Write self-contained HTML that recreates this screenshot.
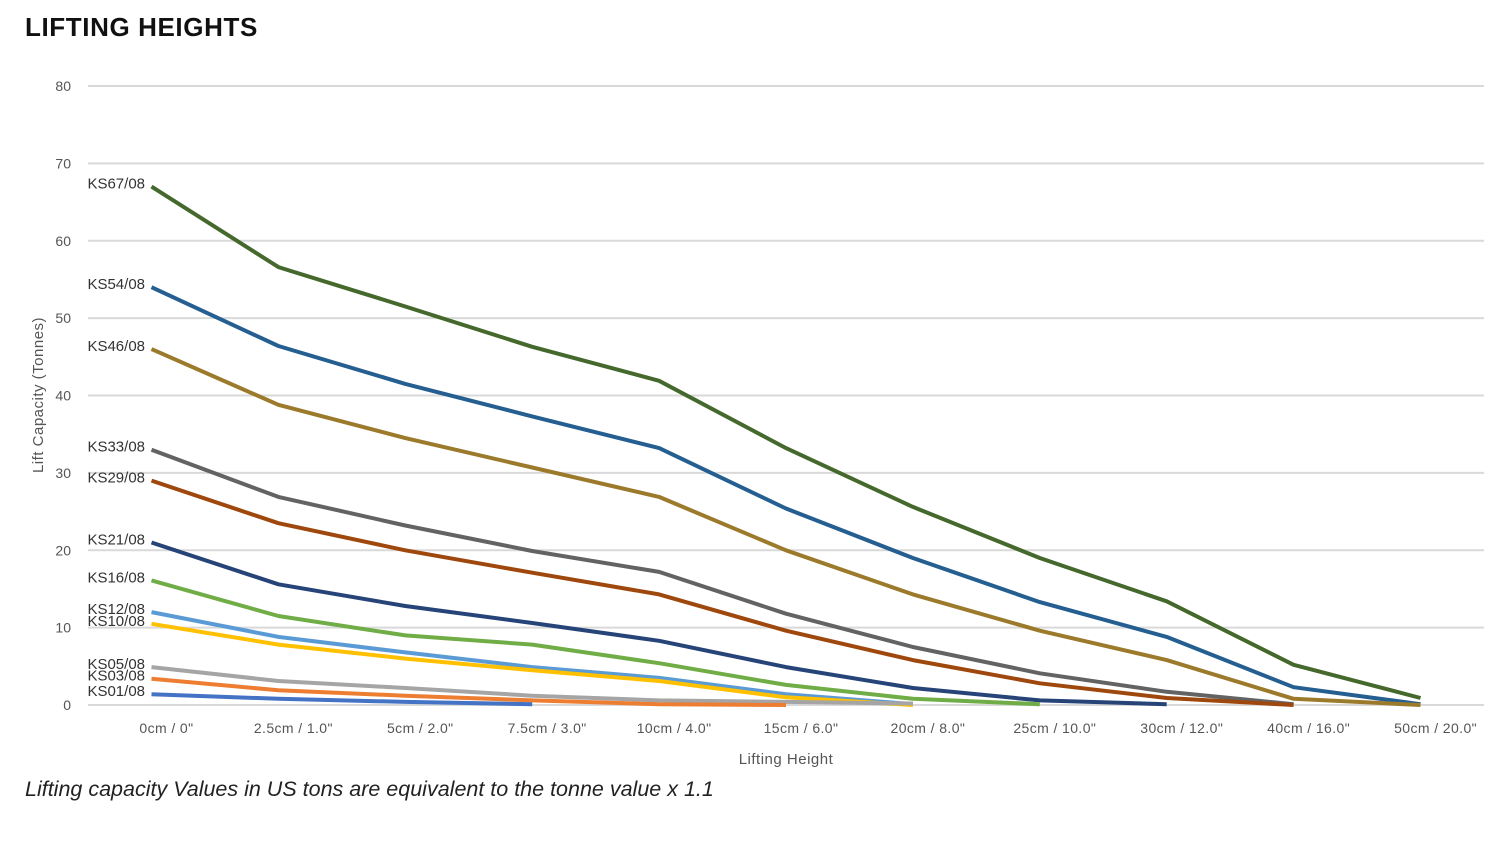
<!DOCTYPE html>
<html><head><meta charset="utf-8"><style>
body{margin:0;background:#fff;width:1510px;height:855px;overflow:hidden;font-family:"Liberation Sans",sans-serif}
</style></head><body>
<svg width="1510" height="855">
<text x="25" y="36" font-size="26" font-weight="bold" letter-spacing="0.6" fill="#111">LIFTING HEIGHTS</text>
<g id="grid"></g><g id="lines"></g><g id="labels"></g>
<text x="786" y="764" font-size="15" letter-spacing="0.5" fill="#555" text-anchor="middle">Lifting Height</text>
<text transform="translate(43,395) rotate(-90)" font-size="15" letter-spacing="0.5" fill="#555" text-anchor="middle">Lift Capacity (Tonnes)</text>
<text x="25" y="796" font-size="21.5" font-style="italic" fill="#222">Lifting capacity Values in US tons are equivalent to the tonne value x 1.1</text>
</svg>
<script>
const categories=['0cm / 0"','2.5cm / 1.0"','5cm / 2.0"','7.5cm / 3.0"','10cm / 4.0"','15cm / 6.0"','20cm / 8.0"','25cm / 10.0"','30cm / 12.0"','40cm / 16.0"','50cm / 20.0"'];
const yTicks=[0,10,20,30,40,50,60,70,80];
const seriesNames=['KS67/08','KS54/08','KS46/08','KS33/08','KS29/08','KS21/08','KS16/08','KS12/08','KS10/08','KS05/08','KS03/08','KS01/08'];
const seriesColors=['#45682c','#255e91','#9c7a2c','#636363','#9e480e','#264478','#70ad47','#5b9bd5','#ffc000','#a5a5a5','#ed7d31','#4472c4'];
const ks67=[67,56.6,51.5,46.3,41.9,33.2,25.6,19,13.4,5.2,0.9];
const ks54=[54,46.4,41.5,37.3,33.2,25.4,19,13.3,8.8,2.3,0.1];
const ks46=[46,38.8,34.5,30.7,26.9,20,14.3,9.6,5.8,0.8,0];
const ks33=[33,26.9,23.2,19.9,17.2,11.8,7.5,4.1,1.7,0.1,null];
const ks29=[29,23.5,20,17.1,14.3,9.6,5.8,2.8,0.9,0,null];
const ks21=[21,15.6,12.8,10.6,8.3,4.9,2.2,0.6,0.1,null,null];
const ks16=[16.1,11.5,9,7.8,5.4,2.6,0.8,0.1,null,null,null];
const ks12=[12,8.8,6.8,4.9,3.5,1.4,0.1,null,null,null,null];
const ks10=[10.5,7.8,6,4.5,3.1,1.0,0,null,null,null,null];
const ks05=[4.9,3.1,2.2,1.2,0.6,0.4,0.2,null,null,null,null];
const ks03=[3.4,1.9,1.2,0.6,0.1,0,null,null,null,null,null];
const ks01=[1.4,0.8,0.4,0.1,null,null,null,null,null,null,null];
const seriesValues=[ks67,ks54,ks46,ks33,ks29,ks21,ks16,ks12,ks10,ks05,ks03,ks01];
const NS='http://www.w3.org/2000/svg';
const L=88,R=1484,Y0=705,Y80=86;
const band=(R-L)/categories.length;
const xs=i=>L+band*(i+0.5);
const ys=v=>Y0-(v/80)*(Y0-Y80);
function mk(t,a,p){const e=document.createElementNS(NS,t);for(const k in a)e.setAttribute(k,a[k]);p.appendChild(e);return e;}
const g=document.getElementById('grid');
yTicks.forEach(t=>{
 const l=mk('line',{x1:L,x2:R,y1:ys(t),y2:ys(t),stroke:'#d9d9d9','stroke-width':2},g);
 
 
 const tx=mk('text',{x:71,y:ys(t)+5,'font-size':14,fill:'#555','text-anchor':'end'},g);
 tx.textContent=t;
 
 
});
categories.forEach((c,i)=>{
 const tx=mk('text',{x:xs(i)+15,y:733,'font-size':14,'letter-spacing':0.4,fill:'#555','text-anchor':'middle'},g);
 tx.textContent=c;
 
 
});
const lg=document.getElementById('lines'),lb=document.getElementById('labels');
seriesValues.forEach((vals,s)=>{
 const pts=[];vals.forEach((v,i)=>{if(v!==null)pts.push(xs(i).toFixed(1)+','+ys(v).toFixed(1));});
 const pl=mk('polyline',{points:pts.join(' '),fill:'none',stroke:seriesColors[s],'stroke-width':4,'stroke-linejoin':'round'},lg);
 
 
 const tx=mk('text',{x:145,y:ys(vals[0])+2,'font-size':15,fill:'#333','text-anchor':'end'},lb);
 tx.textContent=seriesNames[s];
 
 
});
</script>
</body></html>
